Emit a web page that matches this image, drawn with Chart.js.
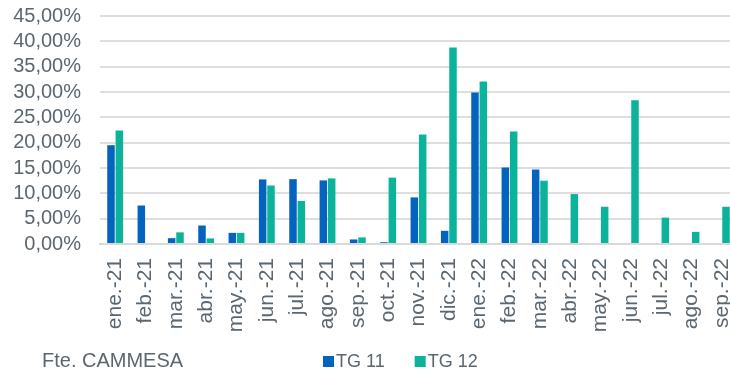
<!DOCTYPE html>
<html>
<head>
<meta charset="utf-8">
<script src="https://cdn.jsdelivr.net/npm/chart.js@4/dist/chart.umd.min.js"></script>
<style>
  html, body { margin: 0; padding: 0; background: #fff; overflow: hidden; }
  #wrap { position: relative; width: 737px; height: 373px; }
</style>
</head>
<body>
<div id="wrap"><canvas id="c"></canvas></div>
<script>
// Monthly share per unit (%)
const months = ['ene.-21','feb.-21','mar.-21','abr.-21','may.-21','jun.-21','jul.-21','ago.-21','sep.-21','oct.-21','nov.-21','dic.-21',
                'ene.-22','feb.-22','mar.-22','abr.-22','may.-22','jun.-22','jul.-22','ago.-22','sep.-22'];
const tg11 = [19.5, 7.6, 1.15, 3.65, 2.2, 12.75, 12.8, 12.55, 0.9, 0.35, 9.2, 2.6,
              29.9, 15.1, 14.7, 0, 0, 0, 0, 0, 0];
const tg12 = [22.4, 0, 2.3, 1.1, 2.2, 11.55, 8.5, 12.95, 1.3, 13.1, 21.6, 38.8,
              32.05, 22.2, 12.5, 9.85, 7.35, 28.35, 5.2, 2.4, 7.35];
const seriesNames = ['TG 11', 'TG 12'];
const seriesColors = ['#0563C0', '#0BB39B'];
const yMax = 45;
const yStep = 5;
const sourceNote = 'Fte. CAMMESA';

const textColor = '#5b6770';
const fontFamily = '"Liberation Sans", Arial, sans-serif';

// Legend and source line drawn under the axis labels
const footer = {
  id: 'footer',
  afterDraw(chart) {
    const ctx = chart.ctx;
    ctx.save();
    ctx.textBaseline = 'alphabetic';
    ctx.fillStyle = textColor;
    ctx.font = '20px ' + fontFamily;
    ctx.textAlign = 'left';
    ctx.fillText(sourceNote, 42, 367);

    ctx.font = '18px ' + fontFamily;
    let x = 323;
    chart.data.datasets.forEach((ds) => {
      ctx.fillStyle = ds.backgroundColor;
      ctx.fillRect(x, 356, 11, 11);
      ctx.fillStyle = textColor;
      ctx.fillText(ds.label, x + 13, 367);
      x += 13 + ctx.measureText(ds.label).width + 30;
    });
    ctx.restore();
  }
};

new Chart(document.getElementById('c'), {
  type: 'bar',
  data: {
    labels: months,
    datasets: [
      { label: seriesNames[0], data: tg11, backgroundColor: seriesColors[0] },
      { label: seriesNames[1], data: tg12, backgroundColor: seriesColors[1] }
    ]
  },
  options: {
    responsive: true,
    maintainAspectRatio: false,
    animation: false,
    layout: { padding: { top: 16, left: 0, right: 0, bottom: 0 } },
    datasets: { bar: { categoryPercentage: 0.55, barPercentage: 0.9 } },
    plugins: {
      legend: { display: false },
      tooltip: { enabled: false }
    },
    scales: {
      x: {
        grid: { display: false, drawTicks: false },
        border: { display: true, color: '#d9d9d9', width: 2 },
        ticks: {
          color: textColor,
          font: { family: fontFamily, size: 21 },
          minRotation: 90,
          maxRotation: 90,
          autoSkip: false,
          padding: 14
        },
        afterFit(scale) {
          scale.height = 129;
          scale.paddingLeft = 0;
          scale.paddingRight = 0;
        }
      },
      y: {
        min: 0,
        max: yMax,
        grid: { color: '#dedede', lineWidth: 2, drawTicks: false },
        border: { display: false },
        ticks: {
          stepSize: yStep,
          autoSkip: false,
          color: textColor,
          font: { family: fontFamily, size: 20 },
          padding: 19,
          callback: (v) => v.toFixed(2).replace('.', ',') + '%'
        },
        afterFit(scale) {
          scale.width = 100;
          scale.paddingTop = 0;
          scale.paddingBottom = 0;
        }
      }
    }
  },
  plugins: [footer]
});
</script>
</body>
</html>
